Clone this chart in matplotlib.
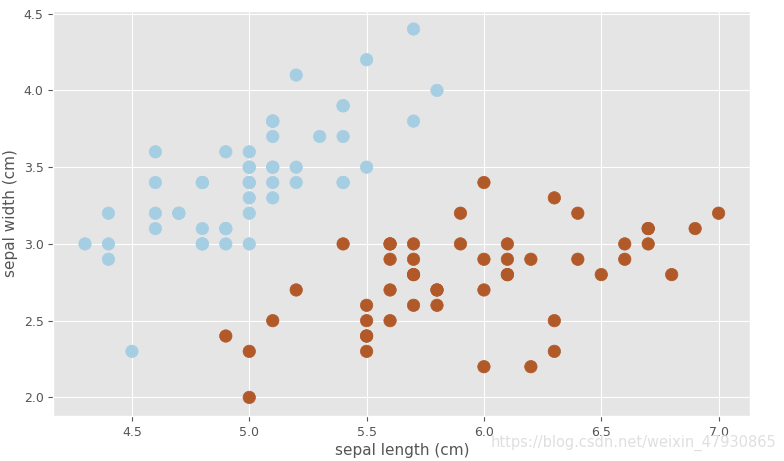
import matplotlib
matplotlib.use('Agg')
import matplotlib.pyplot as plt
import numpy as np

plt.style.use('ggplot')

# iris, first 100 samples: sepal length / sepal width, class 0 = setosa, 1 = versicolor
sepal_length = [5.1, 4.9, 4.7, 4.6, 5.0, 5.4, 4.6, 5.0, 4.4, 4.9,
                5.4, 4.8, 4.8, 4.3, 5.8, 5.7, 5.4, 5.1, 5.7, 5.1,
                5.4, 5.1, 4.6, 5.1, 4.8, 5.0, 5.0, 5.2, 5.2, 4.7,
                4.8, 5.4, 5.2, 5.5, 4.9, 5.0, 5.5, 4.9, 4.4, 5.1,
                5.0, 4.5, 4.4, 5.0, 5.1, 4.8, 5.1, 4.6, 5.3, 5.0,
                7.0, 6.4, 6.9, 5.5, 6.5, 5.7, 6.3, 4.9, 6.6, 5.2,
                5.0, 5.9, 6.0, 6.1, 5.6, 6.7, 5.6, 5.8, 6.2, 5.6,
                5.9, 6.1, 6.3, 6.1, 6.4, 6.6, 6.8, 6.7, 6.0, 5.7,
                5.5, 5.5, 5.8, 6.0, 5.4, 6.0, 6.7, 6.3, 5.6, 5.5,
                5.5, 6.1, 5.8, 5.0, 5.6, 5.7, 5.7, 6.2, 5.1, 5.7]
sepal_width = [3.5, 3.0, 3.2, 3.1, 3.6, 3.9, 3.4, 3.4, 2.9, 3.1,
               3.7, 3.4, 3.0, 3.0, 4.0, 4.4, 3.9, 3.5, 3.8, 3.8,
               3.4, 3.7, 3.6, 3.3, 3.4, 3.0, 3.4, 3.5, 3.4, 3.2,
               3.1, 3.4, 4.1, 4.2, 3.1, 3.2, 3.5, 3.6, 3.0, 3.4,
               3.5, 2.3, 3.2, 3.5, 3.8, 3.0, 3.8, 3.2, 3.7, 3.3,
               3.2, 3.2, 3.1, 2.3, 2.8, 2.8, 3.3, 2.4, 2.9, 2.7,
               2.0, 3.0, 2.2, 2.9, 2.9, 3.1, 3.0, 2.7, 2.2, 2.5,
               3.2, 2.8, 2.5, 2.8, 2.9, 3.0, 2.8, 3.0, 2.9, 2.6,
               2.4, 2.4, 2.7, 2.7, 3.0, 3.4, 3.1, 2.3, 3.0, 2.5,
               2.6, 3.0, 2.6, 2.3, 2.7, 3.0, 2.9, 2.9, 2.5, 2.8]
target = [0] * 50 + [1] * 50

fig = plt.figure(figsize=(7.84, 4.61), dpi=100)
ax = fig.add_axes([0.068, 0.098, 0.889, 0.879])
ax.scatter(sepal_length, sepal_width, c=target, cmap=plt.cm.Paired, s=80)
ax.set_xlabel('sepal length (cm)', fontsize=11, labelpad=3)
ax.set_ylabel('sepal width (cm)', fontsize=11)
ax.tick_params(labelsize=9, labelcolor='#555555')

# csdn watermark
fig.text(0.99, 0.04, 'https://blog.csdn.net/weixin_47930865', ha='right', va='center',
         fontsize=10.5, color='#dcdcdc', alpha=0.9)

fig.savefig('out.png', dpi=100)
